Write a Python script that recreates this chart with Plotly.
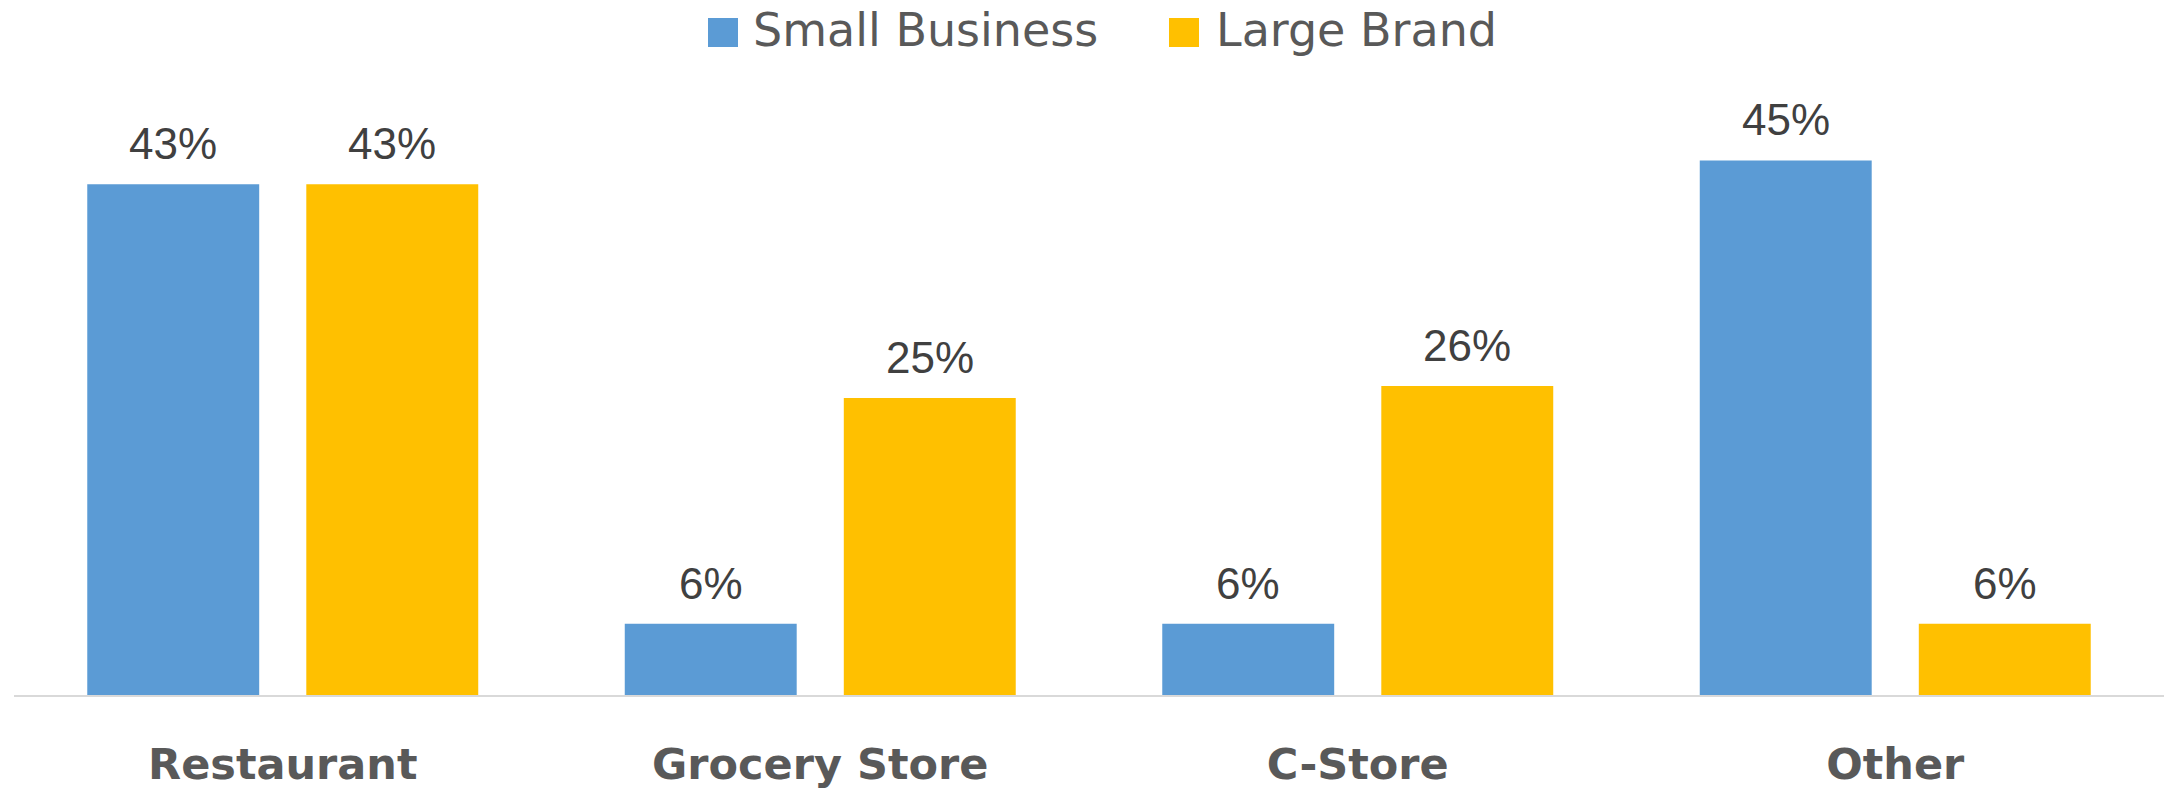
import plotly.graph_objects as go

categories = ["Restaurant", "Grocery Store", "C-Store", "Other"]
small_business = [43, 6, 6, 45]
large_brand = [43, 25, 26, 6]
series_names = ["Small Business", "Large Brand"]
series_colors = ["#5B9BD5", "#FFC000"]

W, H = 2165, 790
ML, MR, MT, MB = 14, 1, 101, 95
PW, PH = W - ML - MR, H - MT - MB


def px_x(x):
    return (x - ML) / PW


def px_y(y):
    return (H - MB - y) / PH


fig = go.Figure()
for name, vals, col in zip(series_names, [small_business, large_brand], series_colors):
    fig.add_trace(go.Bar(x=categories, y=vals, name=name, marker_color=col,
                         marker_line_width=0, showlegend=False))

slot_px = PW / len(categories) * (1 - 0.185) / 2
annotations = []
for k, vals in enumerate([small_business, large_brand]):
    shift = (-0.5 + k) * slot_px
    for c, v in zip(categories, vals):
        annotations.append(dict(x=c, y=v, xref="x", yref="y", text=f"{v}%",
                                showarrow=False, xshift=shift, yshift=14,
                                yanchor="bottom",
                                font=dict(family="Liberation Sans, Arial", size=44,
                                          color="#404040")))

# custom legend
legend_items = [(708, 751), (1169, 1214)]
shapes = []
for (sx, tx), name, col in zip(legend_items, series_names, series_colors):
    shapes.append(dict(type="rect", xref="paper", yref="paper",
                       x0=px_x(sx), x1=px_x(sx + 30), y0=px_y(47), y1=px_y(18),
                       fillcolor=col, line_width=0))
    annotations.append(dict(x=px_x(tx), y=px_y(30), xref="paper", yref="paper",
                            text=name, showarrow=False, xanchor="left",
                            yanchor="middle",
                            font=dict(family="DejaVu Sans", size=46, color="#595959")))

fig.update_layout(
    width=W, height=H,
    margin=dict(l=ML, r=MR, t=MT, b=MB),
    barmode="group", bargap=0.185, bargroupgap=0.215,
    plot_bgcolor="white", paper_bgcolor="white",
    annotations=annotations, shapes=shapes,
    showlegend=False,
)
fig.update_xaxes(showline=True, linecolor="#D9D9D9", linewidth=2, showgrid=False,
                 ticks="", ticklabelstandoff=30,
                 tickfont=dict(family="DejaVu Sans", size=43, color="#595959",
                               weight="bold"))
fig.update_yaxes(visible=False, range=[0, 50], showgrid=False, zeroline=False)

fig.write_html("out.html", config={"displayModeBar": False},
               post_script="document.body.style.margin='0';document.body.style.overflow='hidden';")
